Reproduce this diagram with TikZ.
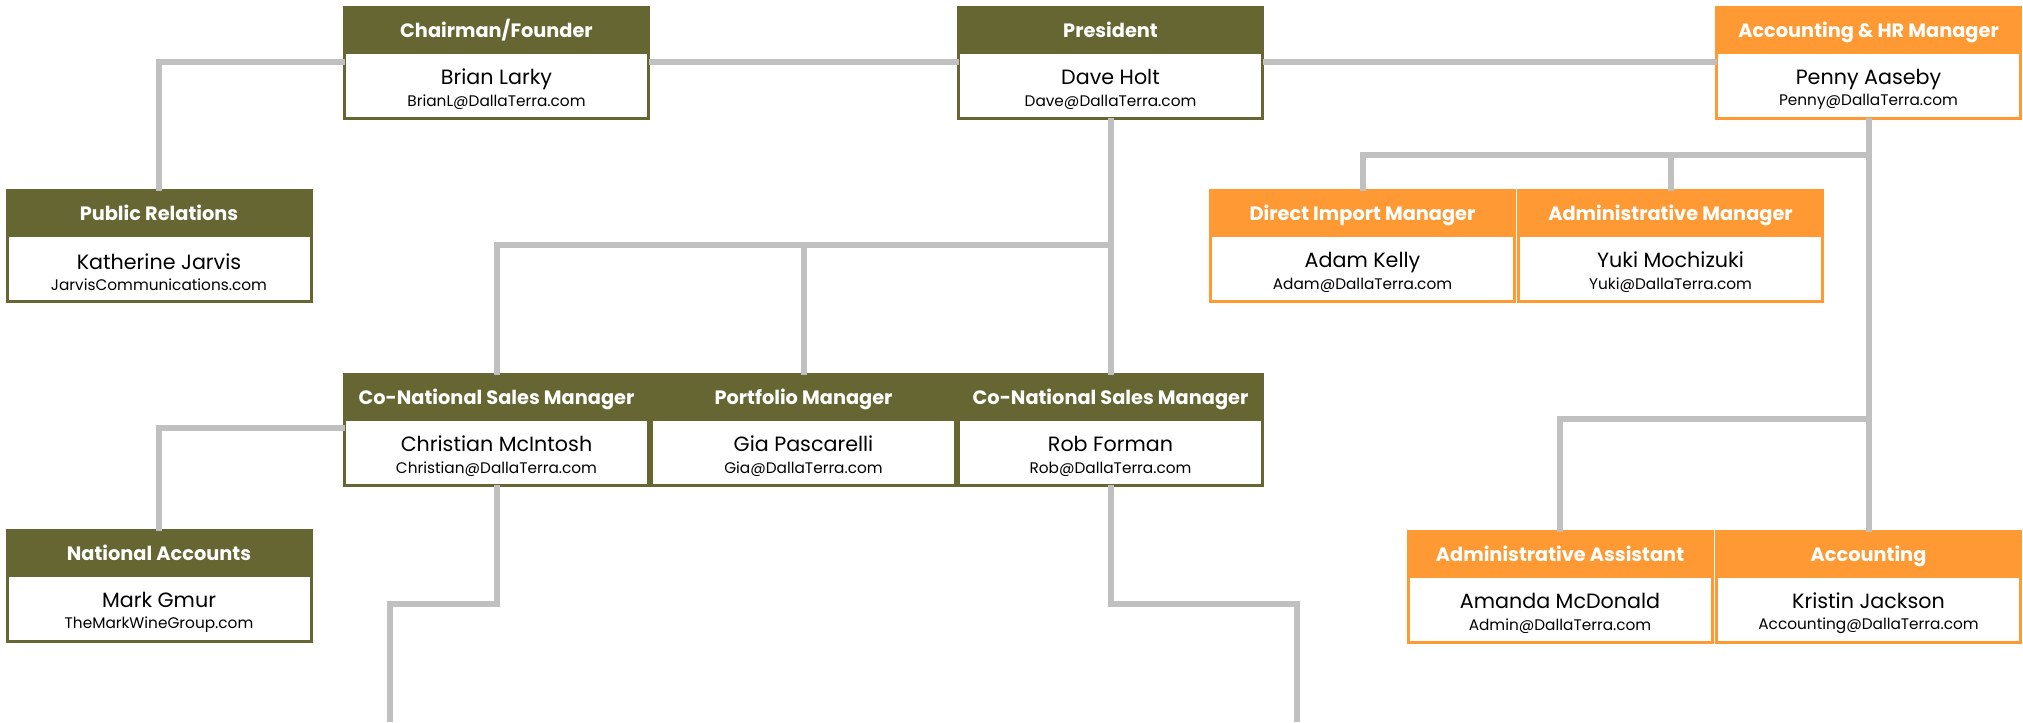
\documentclass[tikz,border=0pt]{standalone}
\usepackage{fontspec}
\setmainfont{Poppins}
\usetikzlibrary{positioning}
\definecolor{darkolive}{HTML}{666633}
\definecolor{tangerine}{HTML}{FF9933}
\definecolor{linkgray}{HTML}{C0C0C0}
\newcommand{\mailfont}{\fontsize{11.5}{12}\selectfont}
\newcommand{\who}[2]{\rule{0pt}{17.5pt}#1\\{\mailfont #2}}

\begin{document}
\begin{tikzpicture}[x=0.75pt, y=-0.75pt,
    title/.style={fill=#1, draw=#1, line width=2.25pt, minimum width=228pt, minimum height=34pt,
        inner sep=0pt, outer sep=0pt, anchor=north, text=white, text height=11.5pt, text depth=0.5pt,
        font=\bfseries\fontsize{14.5}{16}\selectfont},
    card/.style={draw=#1, fill=white, line width=2.25pt, minimum width=228pt, minimum height=49pt,
        inner sep=0pt, outer sep=0pt, align=center, font=\fontsize{15.5}{16}\selectfont},
    link/.style={draw=linkgray, line width=4.5pt}]
            \useasboundingbox (0,0) rectangle (2023,722);

            \node[title=darkolive] (chairT) at (496.5,7.5) {Chairman/Founder};
            \node[card=darkolive, below=0pt of chairT] (chairB) {\who{Brian Larky}{BrianL@DallaTerra.com}};
            \node[title=darkolive] (presT) at (1110.5,7.5) {President};
            \node[card=darkolive, below=0pt of presT] (presB) {\who{Dave Holt}{Dave@DallaTerra.com}};
            \node[title=tangerine] (accT) at (1868.5,7.5) {Accounting \& HR Manager};
            \node[card=tangerine, below=0pt of accT] (accB) {\who{Penny Aaseby}{Penny@DallaTerra.com}};

            \node[title=darkolive] (prT) at (159,190.5) {Public Relations};
            \node[card=darkolive, below=0pt of prT] (prB) {\who{Katherine Jarvis}{JarvisCommunications.com}};
            \node[title=tangerine] (dimT) at (1362.5,190.5) {Direct Import Manager};
            \node[card=tangerine, below=0pt of dimT] (dimB) {\who{Adam Kelly}{Adam@DallaTerra.com}};
            \node[title=tangerine] (admT) at (1670.5,190.5) {Administrative Manager};
            \node[card=tangerine, below=0pt of admT] (admB) {\who{Yuki Mochizuki}{Yuki@DallaTerra.com}};

            \node[title=darkolive] (chrT) at (496.5,374.5) {Co-National Sales Manager};
            \node[card=darkolive, below=0pt of chrT] (chrB) {\who{Christian McIntosh}{Christian@DallaTerra.com}};
            \node[title=darkolive] (portT) at (803.5,374.5) {Portfolio Manager};
            \node[card=darkolive, below=0pt of portT] (portB) {\who{Gia Pascarelli}{Gia@DallaTerra.com}};
            \node[title=darkolive] (robT) at (1110.5,374.5) {Co-National Sales Manager};
            \node[card=darkolive, below=0pt of robT] (robB) {\who{Rob Forman}{Rob@DallaTerra.com}};

            \node[title=darkolive] (natT) at (159,530.5) {National Accounts};
            \node[card=darkolive, below=0pt of natT] (natB) {\who{Mark Gmur}{TheMarkWineGroup.com}};
            \node[title=tangerine] (asstT) at (1560,531.5) {Administrative Assistant};
            \node[card=tangerine, below=0pt of asstT] (asstB) {\who{Amanda McDonald}{Admin@DallaTerra.com}};
            \node[title=tangerine] (acctT) at (1868.5,531.5) {Accounting};
            \node[card=tangerine, below=0pt of acctT] (acctB) {\who{Kristin Jackson}{Accounting@DallaTerra.com}};

            \coordinate (rowA) at (0,62);
            \coordinate (rowB) at (0,245);
            \coordinate (rowC) at (0,155);
            \coordinate (rowD) at (0,419);
            \coordinate (rowE) at (0,428);
            \coordinate (low) at (0,604);
            \coordinate (stubL) at (390,722);
            \coordinate (stubR) at (1297,722);

            \draw[link] (prT.north) |- (chairB.west |- rowA);
            \draw[link] (chairB.east |- rowA) -- (presB.west |- rowA);
            \draw[link] (presB.east |- rowA) -- (accB.west |- rowA);
            \draw[link] (presB.south) -- (robT.north);
            \draw[link] (chrT.north) |- (presB.south |- rowB);
            \draw[link] (portT.north) -- (portT.north |- rowB);
            \draw[link] (accB.south) -- (acctT.north);
            \draw[link] (dimT.north) |- (accB.south |- rowC);
            \draw[link] (admT.north) -- (admT.north |- rowC);
            \draw[link] (asstT.north) |- (acctT.north |- rowD);
            \draw[link] (natT.north) |- (chrB.west |- rowE);
            \draw[link] (chrB.south) |- (stubL |- low) -- (stubL);
            \draw[link] (robB.south) |- (stubR |- low) -- (stubR);
        \end{tikzpicture}
\end{document}
